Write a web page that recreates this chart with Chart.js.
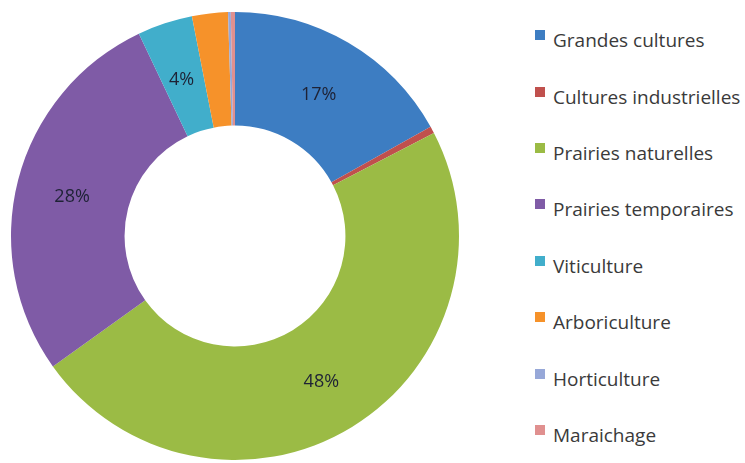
<!DOCTYPE html>
<html lang="fr">
<head>
<meta charset="utf-8">
<title>Surfaces agricoles</title>
<script src="https://cdn.jsdelivr.net/npm/chart.js@4/dist/chart.umd.min.js"></script>
<style>
  html, body { margin: 0; padding: 0; background: #fff; }
  #wrap { position: relative; width: 745px; height: 463px; overflow: hidden; }
  #chartBox { position: absolute; left: 0; top: 0; width: 470px; height: 463px; }
  #legend { position: absolute; left: 535px; top: 12px; margin: 0; padding: 0; list-style: none;
            font-family: "Open Sans", sans-serif; font-size: 19px; color: #3a3a3a; }
  #legend li { height: 56.4px; display: flex; align-items: center; white-space: nowrap; letter-spacing: 0; }
  #legend span.box { display: inline-block; width: 10px; height: 10px; margin-right: 8px; position: relative; top: -5px; }
</style>
</head>
<body>
<div id="wrap">
  <div id="chartBox"><canvas id="chartContainer"></canvas></div>
  <ul id="legend"></ul>
</div>
<script>
// categories, shares and slice colours
const categories = ['Grandes cultures', 'Cultures industrielles', 'Prairies naturelles', 'Prairies temporaires',
  'Viticulture', 'Arboriculture', 'Horticulture', 'Maraichage'];
const shares = [17, 0.5, 48, 28, 4, 2.6, 0.2, 0.3];
const colors = ['#3d7dc2', '#c0504d', '#9bbb45', '#7f5ba6', '#41aecb', '#f6922a', '#97a8d8', '#e0908f'];

// percentages below this are left unlabelled
const minLabelPct = 3.5;

const total = shares.reduce((a, b) => a + b, 0);

// writes the rounded percentage in the middle of each big enough slice
const sliceLabels = {
  id: 'sliceLabels',
  afterDatasetsDraw(chart) {
    const ctx = chart.ctx;
    const meta = chart.getDatasetMeta(0);
    ctx.save();
    ctx.font = '18px "Open Sans", sans-serif';
    ctx.fillStyle = '#1e2235';
    ctx.textAlign = 'center';
    ctx.textBaseline = 'middle';
    meta.data.forEach((arc, i) => {
      const pct = shares[i] / total * 100;
      if (pct < minLabelPct) return;
      const p = arc.tooltipPosition();
      ctx.fillText(Math.round(pct) + '%', p.x - 1, p.y + 3);
    });
    ctx.restore();
  }
};

let chartContainer = document.getElementById('chartContainer').getContext('2d');
let chart = new Chart(chartContainer, {
  type: 'doughnut',
  data: {
    labels: categories,
    datasets: [{
      data: shares,
      backgroundColor: colors,
      borderWidth: 0
    }]
  },
  options: {
    responsive: true,
    maintainAspectRatio: false,
    animation: false,
    cutout: '49.3%',
    layout: { padding: { top: 12, bottom: 3, left: 11, right: 11 } },
    plugins: {
      legend: { display: false },
      tooltip: { enabled: false }
    }
  },
  plugins: [sliceLabels]
});

// legend column on the right
const legend = document.getElementById('legend');
categories.forEach((name, i) => {
  const li = document.createElement('li');
  const box = document.createElement('span');
  box.className = 'box';
  box.style.background = colors[i];
  li.appendChild(box);
  li.appendChild(document.createTextNode(name));
  legend.appendChild(li);
});
</script>
</body>
</html>
